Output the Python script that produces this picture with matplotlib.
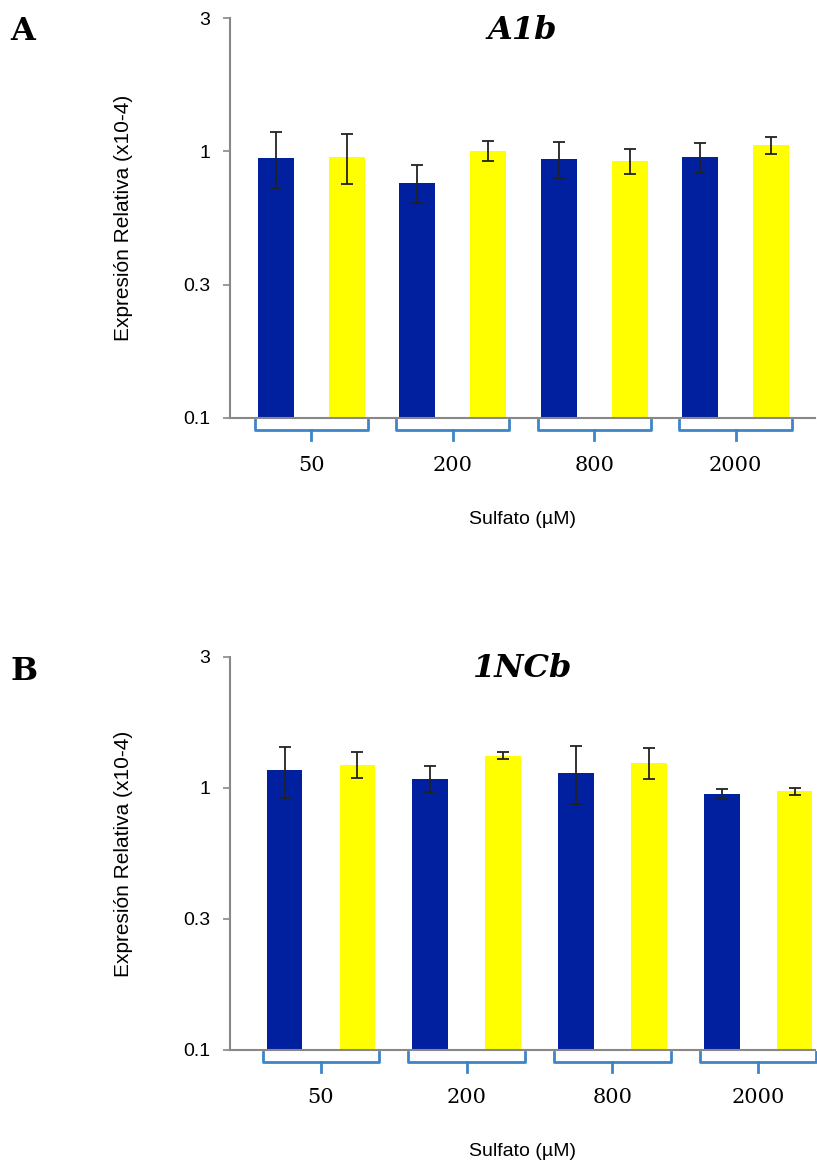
import matplotlib.pyplot as plt
from matplotlib.transforms import blended_transform_factory
import numpy as np

# ========== data ==========
groups = ['50', '200', '800', '2000']
series = ['blue', 'yellow']

# panel A : A1b
a_blue = [0.944, 0.773, 0.939, 0.952]
a_blue_lo = [0.738, 0.654, 0.805, 0.839]
a_blue_hi = [1.170, 0.896, 1.083, 1.074]
a_yellow = [0.952, 1.005, 0.921, 1.052]
a_yellow_lo = [0.765, 0.926, 0.828, 0.980]
a_yellow_hi = [1.156, 1.093, 1.020, 1.126]

# panel B : 1NCb
b_blue = [1.158, 1.081, 1.136, 0.947]
b_blue_lo = [0.922, 0.970, 0.878, 0.912]
b_blue_hi = [1.410, 1.202, 1.423, 0.990]
b_yellow = [1.217, 1.304, 1.232, 0.973]
b_yellow_lo = [1.085, 1.276, 1.081, 0.945]
b_yellow_hi = [1.354, 1.350, 1.401, 1.000]

ytick_vals = [1 / 9, 1 / 3, 1, 3]
ytick_labels = ['0.1', '0.3', '1', '3']

BLUE = '#0020a0'
YELLOW = '#ffff00'
BRACE = '#3d85c6'
GRAY = '#888888'

fig = plt.figure(figsize=(8.17, 11.62), dpi=100)

panels = [
    dict(rect=[0.2815, 0.6403, 0.716, 0.3442], title='A1b', letter='A', letter_y=0.973,
         blue=(a_blue, a_blue_lo, a_blue_hi), yellow=(a_yellow, a_yellow_lo, a_yellow_hi),
         xlim=(-0.65, 7.62), width=0.51),
    dict(rect=[0.2815, 0.0964, 0.716, 0.3382], title='1NCb', letter='B', letter_y=0.422,
         blue=(b_blue, b_blue_lo, b_blue_hi), yellow=(b_yellow, b_yellow_lo, b_yellow_hi),
         xlim=(-0.75, 7.28), width=0.49),
]

for p in panels:
    ax = fig.add_axes(p['rect'])
    ax.set_yscale('log', base=3)
    ax.set_ylim(1 / 9, 3)
    ax.set_xlim(*p['xlim'])

    gx = np.arange(len(groups)) * 2.0
    for k, (vals, lo, hi) in enumerate([p['blue'], p['yellow']]):
        vals = np.array(vals)
        err = [vals - np.array(lo), np.array(hi) - vals]
        ax.bar(gx + k, vals, width=p['width'], color=[BLUE, YELLOW][k], zorder=2)
        ax.errorbar(gx + k, vals, yerr=err, fmt='none', ecolor='#222222',
                    elinewidth=1.3, capsize=4, capthick=1.3, zorder=3)

    for s in ['top', 'right']:
        ax.spines[s].set_visible(False)
    for s in ['left', 'bottom']:
        ax.spines[s].set_color(GRAY)
        ax.spines[s].set_linewidth(1.5)

    ax.set_yticks(ytick_vals)
    ax.set_yticklabels(ytick_labels, family='Liberation Sans')
    ax.yaxis.set_minor_locator(plt.NullLocator())
    ax.tick_params(axis='y', length=5, color=GRAY, width=1.2, pad=9, labelsize=14)
    ax.set_xticks([])

    # braces below each group
    trans = blended_transform_factory(ax.transData, ax.transAxes)
    h = 400 if p['letter'] == 'A' else 393
    y1 = -12 / h
    y2 = -22 / h
    for c in gx + 0.5:
        xl, xr = c - 0.8, c + 0.8
        ax.plot([xl, xl, xr, xr], [-2 / h, y1, y1, -2 / h], color=BRACE, lw=2,
                transform=trans, clip_on=False, solid_joinstyle='round')
        ax.plot([c, c], [y1, y2], color=BRACE, lw=2, transform=trans, clip_on=False)
        ax.text(c, -48 / h, groups[int(c // 2)], transform=trans, ha='center', va='center',
                fontsize=15, family='DejaVu Serif')

    ax.text(0.5, -102 / h, 'Sulfato (µM)', transform=ax.transAxes, ha='center', va='center',
            fontsize=14, family='Liberation Sans')
    ax.set_ylabel('Expresión Relativa (x10-4)', fontsize=15, family='Liberation Sans',
                  labelpad=36)
    ax.text(0.5, 0.97, p['title'], transform=ax.transAxes, ha='center', va='center',
            fontsize=23, fontweight='bold', fontstyle='italic', family='DejaVu Serif')
    fig.text(0.013, p['letter_y'], p['letter'], ha='left', va='center',
             fontsize=23, fontweight='bold', family='DejaVu Serif')

plt.savefig('out.png', dpi=100)
